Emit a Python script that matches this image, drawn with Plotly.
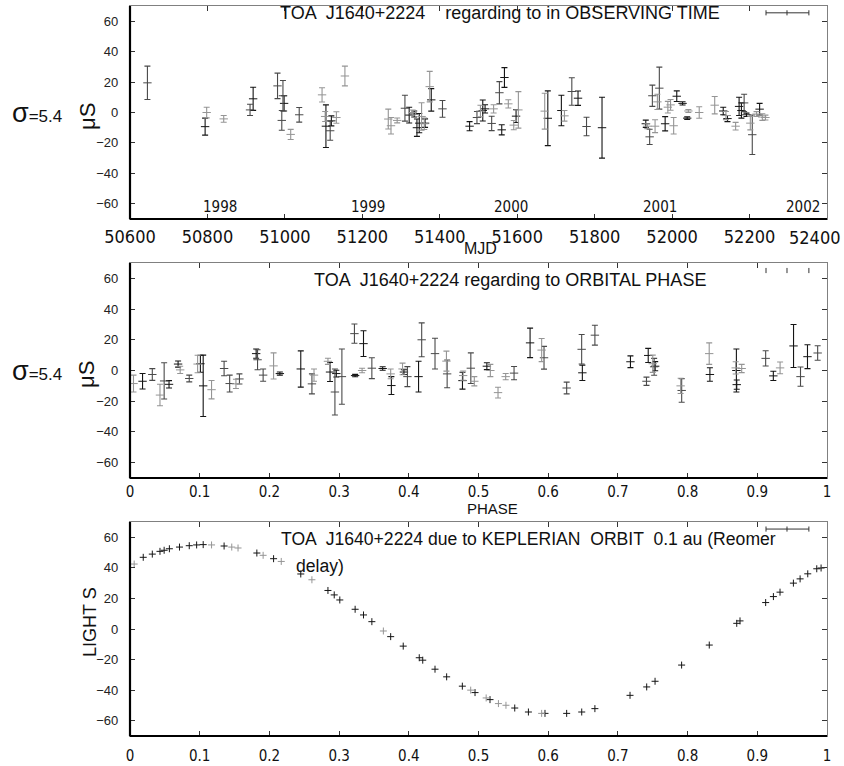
import plotly.graph_objects as go

# ---------------- data ----------------
# Timing residuals vs. MJD (microseconds), error, shade class
mjd = [50645, 50794, 50798, 50842, 50910, 50918, 50981, 50992, 50995, 50998,
       51015, 51037, 51096, 51104, 51106, 51117, 51120, 51133, 51155, 51267,
       51274, 51290, 51310, 51321, 51330, 51334, 51341, 51347, 51353, 51360,
       51362, 51374, 51378, 51407, 51477, 51496, 51505, 51511, 51517, 51534,
       51539, 51554, 51560, 51567, 51577, 51591, 51597, 51603, 51671, 51679,
       51714, 51722, 51741, 51757, 51779, 51819, 51932, 51936, 51942, 51949,
       51956, 51962, 51967, 51982, 51989, 51996, 52004, 52012, 52027, 52039,
       52042, 52070, 52110, 52132, 52139, 52143, 52164, 52173, 52179, 52186,
       52192, 52202, 52207, 52218, 52226, 52233, 52241]
res_t = [19.5, -9.3, 0, -4.2, 1.7, 9, 17.5, -5.2, 11, 6,
         -14.4, -1.5, 11.6, -2.6, -9, -12, -5.5, -3.3, 24, -4.3,
         -8.7, -5.2, 2.8, -1.7, 0, -1, -10, -7, -2.6, -7.4,
         -7, 17, 8.3, 2.4, -9, -3.3, 1, 1.3, 2.4, -7.2,
         2.4, 13, -11.4, 23, 5.7, -8.3, -2.4, 1.7, 0.9, -3.8,
         1.3, -2.2, 13.8, 9.4, -9.2, -10, -7.4, -9, -16, 11,
         -9, 7, 16, -7.4, 3.5, 5, -8.7, 10.7, 6, -3.7,
         1, 0, 4.8, 1, -2, -4, -9, 4, 1.3, 6.3,
         -1.5, -7, -14.6, -1, 2.2, -3, -3.3]
err_t = [11, 5.6, 3.5, 2.2, 3.7, 7.6, 8.4, 6.5, 10, 5,
         3.3, 4.8, 4.7, 3.3, 14, 6.2, 3.3, 3.8, 6.5, 6.5,
         5.4, 1.6, 8.5, 5.2, 1.6, 2, 5.7, 6.3, 9, 3.8,
         2.8, 10, 7.4, 5.5, 3, 4, 3.8, 6.9, 2.7, 4.7,
         2.7, 7.3, 3.3, 6.5, 2.7, 3, 4.2, 12, 11.8, 18,
         10, 3.5, 9, 4.7, 6.1, 20, 2.4, 1.6, 5, 7,
         4.2, 5, 13.8, 4.7, 3.8, 3.5, 5.4, 3.5, 1.1, 0.8,
         1, 3.8, 5.7, 2.5, 2.7, 2, 2.5, 6, 5, 5.7,
         1.1, 4.4, 13, 1.6, 3.8, 2.2, 1.6]
shade_t = list("dkgg" "dkddd" "kgdggkdkgg" "gggdkgkkkgg" "kgkdkdgkkd"
               "gdkkggkggk" "kgdkdkkgddg" "gdkggg" "kkkgggkgkgk" "kdkgdgkgg")

# Timing residuals folded on orbital phase
phase_r = [0.005, 0.018, 0.032, 0.043, 0.049, 0.056, 0.069, 0.072, 0.085, 0.097,
           0.101, 0.105, 0.117, 0.135, 0.143, 0.152, 0.157, 0.181, 0.183, 0.191,
           0.206, 0.215, 0.245, 0.261, 0.264, 0.284, 0.287, 0.294, 0.296, 0.304,
           0.322, 0.323, 0.333, 0.335, 0.347, 0.3625, 0.374, 0.375, 0.391, 0.393,
           0.398, 0.414, 0.4185, 0.4376, 0.454, 0.455, 0.477, 0.478, 0.489, 0.494,
           0.512, 0.517, 0.528, 0.539, 0.551, 0.574, 0.5906, 0.594, 0.6265, 0.648,
           0.649, 0.667, 0.718, 0.741, 0.7435, 0.750, 0.752, 0.7535, 0.790, 0.7915,
           0.831, 0.832, 0.870, 0.8705, 0.869, 0.8776, 0.912, 0.923, 0.9327, 0.952,
           0.962, 0.972, 0.9866]
res_p = [-8.5, -7, -2.6, -16, -6.8, -9, 4.2, 0.4, -5.2, 4.2,
         4.4, -10, -12.5, 1.3, -8.5, -8.7, -5.5, 11, 7, -3,
         3, -2, 1, -8.7, -3, 6, -1, -14, -2, -4,
         24, -3.3, 0, 17.5, 1.5, 1.3, -2.2, -9.8, 1, -1,
         -4, -4, 20, 11, 6.1, -2.2, -6.6, -3.3, 1.5, -7,
         2.8, 0, -14.4, -4, -1.7, 18, 13.3, 8.3, -11.4, 13.8,
         -1.5, 23, 5.7, -7, 9.8, 4.4, 2.4, 2.8, -10, -13,
         11, -2.6, 0, -9.2, 1.7, 1.3, 7.9, -3.5, 1.7, 16,
         -4, 9, 11.4]
err_p = [5.5, 5, 3.8, 7, 11.8, 2.4, 2, 2.4, 2.2, 5.7,
         5.5, 20, 6, 4.7, 5.5, 3, 3.3, 3, 6.5, 4,
         8.5, 1, 11.8, 6.5, 4, 2, 6.2, 15, 2.2, 18,
         6.3, 0.8, 1.5, 8.4, 6.8, 1.1, 3.2, 5.8, 3.8, 1.6,
         6.5, 10, 11, 10, 6.5, 9, 5.5, 3, 10, 3,
         2.2, 4, 3.5, 2, 4.3, 9.6, 7.5, 7.4, 3.8, 9.6,
         5, 6.5, 3.8, 2.7, 4.6, 5.6, 5.5, 3, 5, 7.7,
         7, 4.4, 14, 3, 4, 2.7, 5, 3, 3.8, 14,
         6.3, 7.8, 4.7]
shade_p = list("gkdgdkkgdg" "kkgddgdkdd" "gkkdggkdkd" "dkgkdkgkgk"
               "dkddgdkgdg" "kgggdkgddd" "kdkdkgdkgd" "gkkkggdkgk" "dkd")

# Light-travel (Roemer) delay of a 0.1 au Keplerian orbit vs. phase
phase_k = [0.006, 0.019, 0.032, 0.043, 0.049, 0.0565, 0.071, 0.085, 0.0956, 0.105,
           0.117, 0.135, 0.146, 0.155, 0.182, 0.191, 0.206, 0.217, 0.245, 0.261,
           0.284, 0.293, 0.301, 0.323, 0.335, 0.347, 0.3635, 0.374, 0.392, 0.415,
           0.420, 0.4376, 0.4543, 0.4768, 0.4888, 0.495, 0.511, 0.5165, 0.5286, 0.5394,
           0.552, 0.5716, 0.5906, 0.5954, 0.6265, 0.6481, 0.667, 0.7174, 0.7413, 0.7533,
           0.7914, 0.8311, 0.8705, 0.8752, 0.912, 0.9231, 0.9326, 0.9518, 0.9614, 0.9724,
           0.9853, 0.9915]
delay_k = [42.5, 46.9, 49, 50.8, 51.5, 52.5, 53.6, 54.5, 55, 55.2,
           55, 54.3, 53.6, 53, 49.7, 48.2, 46, 44.2, 36, 32.2,
           25.2, 22.3, 19, 12.9, 9.2, 4.8, -1.3, -5, -11.2, -18.8,
           -20.4, -26.3, -31.3, -37.4, -40, -41.6, -45.1, -46.2, -48.8, -49.9,
           -51.7, -54.3, -55.2, -55.2, -55.2, -54.3, -52.1, -43.4, -37.9, -34.2,
           -23.6, -10.5, 3.7, 5.3, 17.3, 21.2, 24.1, 30, 32.8, 36.1,
           39.4, 39.9]
shade_k = list("gkkkkkkkkk" "gkggkgkgkg" "kkkkkkgkkk" "kkkkgkgkgg"
               "kkgkkkkkkk" "kkkkkkkkkk" "kk")

years = ["1998", "1999", "2000", "2001", "2002"]
year_mjd = [50833, 51215, 51583, 51968, 52338]

mjd_ticks = list(range(50600, 52401, 200))
# the last MJD label sits flush against the right page edge, so it is placed separately
mjd_ticktext = [str(v) for v in mjd_ticks[:-1]] + [""]
phase_ticks = [0, 0.1, 0.2, 0.3, 0.4, 0.5, 0.6, 0.7, 0.8, 0.9, 1]
phase_ticktext = ["0", "0.1", "0.2", "0.3", "0.4", "0.5", "0.6", "0.7", "0.8", "0.9", "1"]
res_ticks = [-60, -40, -20, 0, 20, 40, 60]

# ---------------- style ----------------
W, H = 844, 766
NARROW = "Liberation Sans Narrow, Arial Narrow, DejaVu Sans Condensed, sans-serif"
SANS = "Liberation Sans, Arial, Helvetica, sans-serif"
SHADES = {"k": "#151515", "d": "#4a4a4a", "g": "#959595"}

def px_x(p):
    return p / W

def px_y(p):
    return 1 - p / H

X0, X1 = 130, 827
panels = [(6, 219), (263, 478), (522, 736)]  # top/bottom pixel rows

fig = go.Figure()


def add_errs(x, y, e, shades, axis_idx):
    suffix = "" if axis_idx == 1 else str(axis_idx)
    for key, color in SHADES.items():
        idx = [i for i, s in enumerate(shades) if s == key]
        if not idx:
            continue
        fig.add_trace(go.Scatter(
            x=[x[i] for i in idx], y=[y[i] for i in idx],
            error_y=dict(type="data", array=[e[i] for i in idx], visible=True,
                         color=color, thickness=1.1, width=3),
            mode="markers",
            marker=dict(symbol="line-ew", size=6, line=dict(width=1, color=color), color=color),
            xaxis="x" + suffix, yaxis="y" + suffix, showlegend=False, hoverinfo="x+y"))


add_errs(mjd, res_t, err_t, shade_t, 1)
add_errs(phase_r, res_p, err_p, shade_p, 2)

for key, color in SHADES.items():
    idx = [i for i, s in enumerate(shade_k) if s == key]
    if not idx:
        continue
    fig.add_trace(go.Scatter(
        x=[phase_k[i] for i in idx], y=[delay_k[i] for i in idx],
        mode="markers",
        marker=dict(symbol="cross-thin", size=5, line=dict(width=1, color=color), color=color),
        xaxis="x3", yaxis="y3", showlegend=False, hoverinfo="x+y"))

axis_common = dict(showgrid=False, zeroline=False, showline=True, linecolor="#808080",
                   linewidth=1.2, mirror="ticks", ticks="inside", ticklen=5,
                   tickcolor="#333333", tickwidth=1.2, automargin=False,
                   ticklabeloverflow="allow")

layout = dict(width=W, height=H, margin=dict(l=0, r=0, t=0, b=0),
              paper_bgcolor="white", plot_bgcolor="white", showlegend=False)

xfonts = [dict(family=NARROW, size=18, color="#111"),
          dict(family=NARROW, size=15, color="#111"),
          dict(family=NARROW, size=15, color="#111")]
xstandoff = [1, 0, 6]
for k, (top, bot) in enumerate(panels, start=1):
    s = "" if k == 1 else str(k)
    xa = dict(axis_common, domain=[px_x(X0), px_x(X1)], anchor="y" + s,
              tickfont=xfonts[k - 1], ticklabelstandoff=xstandoff[k - 1])
    if k == 1:
        xa.update(range=[50600, 52400], tickvals=mjd_ticks, ticktext=mjd_ticktext)
    else:
        xa.update(range=[0, 1], tickvals=phase_ticks, ticktext=phase_ticktext)
    ya = dict(axis_common, domain=[px_y(bot), px_y(top)], anchor="x" + s,
              range=[-70, 70], tickvals=res_ticks,
              tickfont=dict(family=SANS, size=13, color="#222"), ticklabelstandoff=8)
    layout["xaxis" + s] = xa
    layout["yaxis" + s] = ya

fig.update_layout(**layout)

# heavy left and bottom frame lines
shapes = []
for k in range(1, 4):
    s = "" if k == 1 else str(k)
    shapes.append(dict(type="line", xref="x%s domain" % s, yref="y%s domain" % s,
                       x0=0, x1=0, y0=0, y1=1, line=dict(color="black", width=2.2)))
    shapes.append(dict(type="line", xref="x%s domain" % s, yref="y%s domain" % s,
                       x0=0, x1=1, y0=0, y1=0, line=dict(color="black", width=2.2)))

# key samples in the upper right corners
def key_sample(s, ypos, with_line):
    xs = [0.9125, 0.9426, 0.974]
    out = []
    if with_line:
        out.append(dict(type="line", xref="x%s domain" % s, yref="y%s domain" % s,
                        x0=xs[0], x1=xs[2], y0=ypos, y1=ypos, line=dict(color="#333", width=1)))
    for xv in xs:
        out.append(dict(type="line", xref="x%s domain" % s, yref="y%s domain" % s,
                        x0=xv, x1=xv, y0=ypos - 0.012, y1=ypos + 0.012,
                        line=dict(color="#333", width=1)))
    return out

shapes += key_sample("", 0.968, True)
shapes += key_sample("2", 0.965, False)
shapes += key_sample("3", 0.967, True)
fig.update_layout(shapes=shapes)

ann = []


def text_at(text, px, py, size, xanchor="left", angle=0, family=SANS, **kw):
    ann.append(dict(text=text, x=px_x(px), y=px_y(py), xref="paper", yref="paper",
                    xanchor=xanchor, yanchor="middle", textangle=angle, showarrow=False,
                    font=dict(family=family, size=size, color="#111"), **kw))


# panel titles
text_at("TOA  J1640+2224    regarding to in OBSERVING TIME", 278, 13, 18)
text_at("TOA  J1640+2224 regarding to ORBITAL PHASE", 312, 280, 18)
text_at("TOA  J1640+2224 due to KEPLERIAN  ORBIT  0.1 au (Reomer", 279, 539, 17.6)
text_at("delay)", 294, 566, 17.6)

# last MJD tick label, kept inside the page
text_at(str(mjd_ticks[-1]), 843, 237, 18, xanchor="right", family=NARROW)

# year markers along the time axis
for yr, m in zip(years, year_mjd):
    ann.append(dict(text=yr, x=m, y=-62, xref="x", yref="y", showarrow=False,
                    xanchor="center", yanchor="middle",
                    font=dict(family=NARROW, size=15, color="#111")))

# axis titles and left-hand labels
text_at("MJD", 480, 248, 16, xanchor="center")
text_at("PHASE", 492, 508, 15, xanchor="center")
for yc in (113, 371):
    text_at("<span style='font-size:27px'>σ</span>=5.4", 10, yc, 17)
    text_at("μS", 87, yc + 4, 22, xanchor="center", angle=-90)
text_at("LIGHT S", 90, 622, 18, xanchor="center", angle=-90)
fig.update_layout(annotations=ann)

fig.write_html("out.html")
